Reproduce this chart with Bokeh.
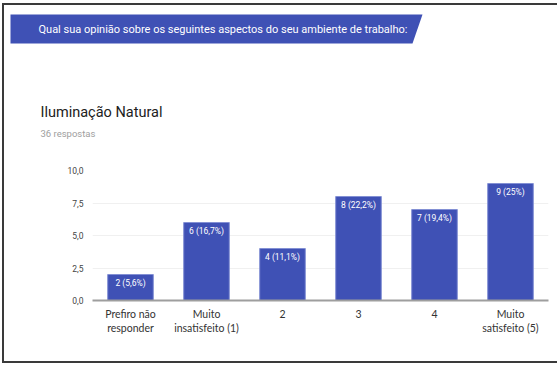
from bokeh.plotting import figure
from bokeh.layouts import column
from bokeh.core.properties import value
from bokeh.models import (ColumnDataSource, FactorRange, Range1d, FixedTicker,
                          CustomJSTickFormatter, LabelSet, CategoricalAxis)
from bokeh.embed import file_html
from bokeh.resources import INLINE

# ---- data ----
categories = ["Prefiro não responder", "Muito insatisfeito (1)", "2", "3", "4", "Muito satisfeito (5)"]
counts = [2, 6, 4, 8, 7, 9]
bar_labels = ["2 (5,6%)", "6 (16,7%)", "4 (11,1%)", "8 (22,2%)", "7 (19,4%)", "9 (25%)"]
tick_line1 = ["Prefiro não", "Muito", "2", "3", "4", "Muito"]
tick_line2 = ["responder", "insatisfeito (1)", "", "", "", "satisfeito (5)"]
y_ticks = [0, 2.5, 5, 7.5, 10]
banner_text = "Qual sua opinião sobre os seguintes aspectos do seu ambiente de trabalho:"
title_text = "Iluminação Natural"
subtitle_text = "36 respostas"

BAR = "#3F51B5"
W = 553          # content width (page x 4..557)
HH = 155         # header height (page y 5..160)
CH = 201         # chart height (page y 160..361)


def no_align(fig):
    if "frame_align" in fig.properties():
        fig.frame_align = False


def line_formatter(lines):
    return CustomJSTickFormatter(
        args=dict(cats=categories, lines=lines),
        code="const i = cats.indexOf(tick); return i >= 0 ? lines[i] : '';")


# ---- header (banner, title, subtitle) ----
h = figure(width=W, height=HH, output_backend="svg", toolbar_location=None,
           x_range=Range1d(4, 4 + W), y_range=Range1d(5 + HH, 5),
           min_border=0, border_fill_color="white", background_fill_color="white")
no_align(h)
h.outline_line_color = None
h.axis.visible = False
h.grid.visible = False
h.patch([10, 422, 412, 10], [14, 14, 43, 43], fill_color=BAR, line_color=None)
h.text(x=[38], y=[29], text=[banner_text], text_baseline="middle", text_color="white",
       text_font=value("Roboto"), text_font_size="11px")
h.text(x=[40], y=[112], text=[title_text], text_baseline="middle", text_color="#212121",
       text_font=value("Roboto"), text_font_size="14.5px")
h.text(x=[40], y=[133], text=[subtitle_text], text_baseline="middle", text_color="#9e9e9e",
       text_font=value("Roboto"), text_font_size="9.5px")

# ---- chart ----
p = figure(width=W, height=CH, output_backend="svg", toolbar_location=None,
           x_range=FactorRange(factors=categories, range_padding=0),
           y_range=Range1d(0, 10),
           min_border_left=88, min_border_right=9, min_border_top=10, min_border_bottom=61,
           background_fill_color="white", border_fill_color="white")
no_align(p)
p.outline_line_color = None

src = ColumnDataSource(dict(cat=categories, n=counts, lab=bar_labels))
p.vbar(x="cat", top="n", width=0.6, source=src, fill_color=BAR, line_color="#8390d4", line_width=1)

p.yaxis.ticker = FixedTicker(ticks=y_ticks)
p.yaxis.formatter = CustomJSTickFormatter(code="return tick.toFixed(1).replace('.', ',');")
p.yaxis.axis_line_color = None
p.yaxis.major_tick_line_color = None
p.yaxis.minor_tick_line_color = None
p.yaxis.major_tick_out = 0
p.yaxis.major_label_text_font = "Roboto"
p.yaxis.major_label_text_font_size = "8.5px"
p.yaxis.major_label_text_color = "#444444"
p.yaxis.major_label_standoff = 9

xa = p.xaxis[0]
xa.axis_line_color = "#9e9e9e"
xa.axis_line_width = 2
xa.major_tick_line_color = None
xa.minor_tick_line_color = None
xa.major_tick_out = 0
xa.formatter = line_formatter(tick_line1)
xa.major_label_text_font = "Lato"
xa.major_label_text_font_size = "10.5px"
xa.major_label_text_color = "#333333"
xa.major_label_standoff = 7

xa2 = CategoricalAxis(axis_line_color=None, major_tick_line_color=None,
                      minor_tick_line_color=None, major_tick_out=0,
                      formatter=line_formatter(tick_line2),
                      major_label_text_font="Lato", major_label_text_font_size="10.5px",
                      major_label_text_color="#333333", major_label_standoff=-1)
p.add_layout(xa2, "below")

p.xgrid.grid_line_color = None
p.ygrid.grid_line_color = "#f0f0f0"
p.ygrid.ticker = FixedTicker(ticks=y_ticks)

p.add_layout(LabelSet(x="cat", y="n", text="lab", source=src, text_align="center",
                      text_baseline="top", y_offset=-3, text_color="white",
                      text_font=value("Roboto"), text_font_size="8.5px"))

layout = column(h, p, styles={"margin-left": "2px", "margin-top": "3px",
                              "border-left": "2px solid #3a3a3a",
                              "border-top": "2px solid #3a3a3a",
                              "border-bottom": "2px solid #3a3a3a"})

open("out.html", "w").write(file_html(layout, INLINE))
